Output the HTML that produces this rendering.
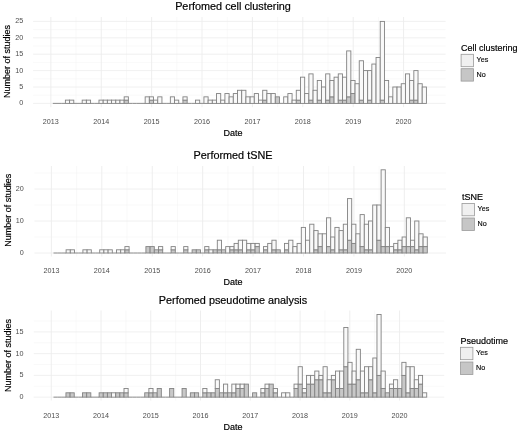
<!DOCTYPE html>
<html><head><meta charset="utf-8"><title>Figure</title>
<style>
html,body{margin:0;padding:0;background:#fff;}
body{width:520px;height:431px;overflow:hidden;}
svg{display:block;font-family:"Liberation Sans",sans-serif;}
</style></head><body>
<svg width="520" height="431" viewBox="0 0 520 431">
<rect width="520" height="431" fill="#fff"/>
<g><line x1="33.10" x2="445.60" y1="95.20" y2="95.20" stroke="#f3f3f3" stroke-width="0.5"/>
<line x1="33.10" x2="445.60" y1="78.80" y2="78.80" stroke="#f3f3f3" stroke-width="0.5"/>
<line x1="33.10" x2="445.60" y1="62.40" y2="62.40" stroke="#f3f3f3" stroke-width="0.5"/>
<line x1="33.10" x2="445.60" y1="46.00" y2="46.00" stroke="#f3f3f3" stroke-width="0.5"/>
<line x1="33.10" x2="445.60" y1="29.60" y2="29.60" stroke="#f3f3f3" stroke-width="0.5"/>
<line x1="76.05" x2="76.05" y1="17.00" y2="107.20" stroke="#f3f3f3" stroke-width="0.5"/>
<line x1="126.44" x2="126.44" y1="17.00" y2="107.20" stroke="#f3f3f3" stroke-width="0.5"/>
<line x1="176.82" x2="176.82" y1="17.00" y2="107.20" stroke="#f3f3f3" stroke-width="0.5"/>
<line x1="227.22" x2="227.22" y1="17.00" y2="107.20" stroke="#f3f3f3" stroke-width="0.5"/>
<line x1="277.61" x2="277.61" y1="17.00" y2="107.20" stroke="#f3f3f3" stroke-width="0.5"/>
<line x1="328.00" x2="328.00" y1="17.00" y2="107.20" stroke="#f3f3f3" stroke-width="0.5"/>
<line x1="378.39" x2="378.39" y1="17.00" y2="107.20" stroke="#f3f3f3" stroke-width="0.5"/>
<line x1="33.10" x2="445.60" y1="103.40" y2="103.40" stroke="#ececec" stroke-width="0.8"/>
<line x1="33.10" x2="445.60" y1="87.00" y2="87.00" stroke="#ececec" stroke-width="0.8"/>
<line x1="33.10" x2="445.60" y1="70.60" y2="70.60" stroke="#ececec" stroke-width="0.8"/>
<line x1="33.10" x2="445.60" y1="54.20" y2="54.20" stroke="#ececec" stroke-width="0.8"/>
<line x1="33.10" x2="445.60" y1="37.80" y2="37.80" stroke="#ececec" stroke-width="0.8"/>
<line x1="33.10" x2="445.60" y1="21.40" y2="21.40" stroke="#ececec" stroke-width="0.8"/>
<line x1="50.85" x2="50.85" y1="17.00" y2="107.20" stroke="#ececec" stroke-width="0.9"/>
<line x1="101.24" x2="101.24" y1="17.00" y2="107.20" stroke="#ececec" stroke-width="0.9"/>
<line x1="151.63" x2="151.63" y1="17.00" y2="107.20" stroke="#ececec" stroke-width="0.9"/>
<line x1="202.02" x2="202.02" y1="17.00" y2="107.20" stroke="#ececec" stroke-width="0.9"/>
<line x1="252.41" x2="252.41" y1="17.00" y2="107.20" stroke="#ececec" stroke-width="0.9"/>
<line x1="302.80" x2="302.80" y1="17.00" y2="107.20" stroke="#ececec" stroke-width="0.9"/>
<line x1="353.19" x2="353.19" y1="17.00" y2="107.20" stroke="#ececec" stroke-width="0.9"/>
<line x1="403.58" x2="403.58" y1="17.00" y2="107.20" stroke="#ececec" stroke-width="0.9"/>
<line x1="52.80" x2="57.00" y1="103.40" y2="103.40" stroke="#828282" stroke-width="0.9"/>
<line x1="57.00" x2="61.20" y1="103.40" y2="103.40" stroke="#828282" stroke-width="0.9"/>
<line x1="61.20" x2="65.39" y1="103.40" y2="103.40" stroke="#828282" stroke-width="0.9"/>
<rect x="65.39" y="100.12" width="4.198" height="3.28" fill="#f9f9f9" stroke="#828282" stroke-width="0.9"/>
<rect x="69.59" y="100.12" width="4.198" height="3.28" fill="#f9f9f9" stroke="#828282" stroke-width="0.9"/>
<line x1="73.79" x2="77.99" y1="103.40" y2="103.40" stroke="#828282" stroke-width="0.9"/>
<line x1="77.99" x2="82.19" y1="103.40" y2="103.40" stroke="#828282" stroke-width="0.9"/>
<rect x="82.19" y="100.12" width="4.198" height="3.28" fill="#f9f9f9" stroke="#828282" stroke-width="0.9"/>
<rect x="86.38" y="100.12" width="4.198" height="3.28" fill="#f9f9f9" stroke="#828282" stroke-width="0.9"/>
<line x1="90.58" x2="94.78" y1="103.40" y2="103.40" stroke="#828282" stroke-width="0.9"/>
<line x1="94.78" x2="98.98" y1="103.40" y2="103.40" stroke="#828282" stroke-width="0.9"/>
<rect x="98.98" y="100.12" width="4.198" height="3.28" fill="#f9f9f9" stroke="#828282" stroke-width="0.9"/>
<rect x="103.18" y="100.12" width="4.198" height="3.28" fill="#f9f9f9" stroke="#828282" stroke-width="0.9"/>
<rect x="107.37" y="100.12" width="4.198" height="3.28" fill="#f9f9f9" stroke="#828282" stroke-width="0.9"/>
<rect x="111.57" y="100.12" width="4.198" height="3.28" fill="#f9f9f9" stroke="#828282" stroke-width="0.9"/>
<rect x="115.77" y="100.12" width="4.198" height="3.28" fill="#f9f9f9" stroke="#828282" stroke-width="0.9"/>
<rect x="119.97" y="100.12" width="4.198" height="3.28" fill="#f9f9f9" stroke="#828282" stroke-width="0.9"/>
<rect x="124.17" y="100.12" width="4.198" height="3.28" fill="#c8c8c8" stroke="#828282" stroke-width="0.9"/>
<rect x="124.17" y="96.84" width="4.198" height="3.28" fill="#f9f9f9" stroke="#828282" stroke-width="0.9"/>
<line x1="128.36" x2="132.56" y1="103.40" y2="103.40" stroke="#828282" stroke-width="0.9"/>
<line x1="132.56" x2="136.76" y1="103.40" y2="103.40" stroke="#828282" stroke-width="0.9"/>
<line x1="136.76" x2="140.96" y1="103.40" y2="103.40" stroke="#828282" stroke-width="0.9"/>
<line x1="140.96" x2="145.16" y1="103.40" y2="103.40" stroke="#828282" stroke-width="0.9"/>
<rect x="145.16" y="96.84" width="4.198" height="6.56" fill="#f9f9f9" stroke="#828282" stroke-width="0.9"/>
<rect x="149.35" y="100.12" width="4.198" height="3.28" fill="#c8c8c8" stroke="#828282" stroke-width="0.9"/>
<rect x="149.35" y="96.84" width="4.198" height="3.28" fill="#f9f9f9" stroke="#828282" stroke-width="0.9"/>
<rect x="153.55" y="100.12" width="4.198" height="3.28" fill="#f9f9f9" stroke="#828282" stroke-width="0.9"/>
<rect x="157.75" y="96.84" width="4.198" height="6.56" fill="#f9f9f9" stroke="#828282" stroke-width="0.9"/>
<line x1="161.95" x2="166.15" y1="103.40" y2="103.40" stroke="#828282" stroke-width="0.9"/>
<line x1="166.15" x2="170.34" y1="103.40" y2="103.40" stroke="#828282" stroke-width="0.9"/>
<rect x="170.34" y="96.84" width="4.198" height="6.56" fill="#f9f9f9" stroke="#828282" stroke-width="0.9"/>
<rect x="174.54" y="100.12" width="4.198" height="3.28" fill="#f9f9f9" stroke="#828282" stroke-width="0.9"/>
<line x1="178.74" x2="182.94" y1="103.40" y2="103.40" stroke="#828282" stroke-width="0.9"/>
<rect x="182.94" y="100.12" width="4.198" height="3.28" fill="#c8c8c8" stroke="#828282" stroke-width="0.9"/>
<rect x="182.94" y="96.84" width="4.198" height="3.28" fill="#f9f9f9" stroke="#828282" stroke-width="0.9"/>
<line x1="187.14" x2="191.33" y1="103.40" y2="103.40" stroke="#828282" stroke-width="0.9"/>
<line x1="191.33" x2="195.53" y1="103.40" y2="103.40" stroke="#828282" stroke-width="0.9"/>
<rect x="195.53" y="100.12" width="4.198" height="3.28" fill="#f9f9f9" stroke="#828282" stroke-width="0.9"/>
<line x1="199.73" x2="203.93" y1="103.40" y2="103.40" stroke="#828282" stroke-width="0.9"/>
<rect x="203.93" y="96.84" width="4.198" height="6.56" fill="#f9f9f9" stroke="#828282" stroke-width="0.9"/>
<rect x="208.13" y="100.12" width="4.198" height="3.28" fill="#f9f9f9" stroke="#828282" stroke-width="0.9"/>
<rect x="212.32" y="100.12" width="4.198" height="3.28" fill="#f9f9f9" stroke="#828282" stroke-width="0.9"/>
<rect x="216.52" y="93.56" width="4.198" height="9.84" fill="#f9f9f9" stroke="#828282" stroke-width="0.9"/>
<rect x="220.72" y="100.12" width="4.198" height="3.28" fill="#f9f9f9" stroke="#828282" stroke-width="0.9"/>
<rect x="224.92" y="93.56" width="4.198" height="9.84" fill="#f9f9f9" stroke="#828282" stroke-width="0.9"/>
<rect x="229.12" y="96.84" width="4.198" height="6.56" fill="#f9f9f9" stroke="#828282" stroke-width="0.9"/>
<rect x="233.31" y="93.56" width="4.198" height="9.84" fill="#f9f9f9" stroke="#828282" stroke-width="0.9"/>
<rect x="237.51" y="90.28" width="4.198" height="13.12" fill="#f9f9f9" stroke="#828282" stroke-width="0.9"/>
<rect x="241.71" y="90.28" width="4.198" height="13.12" fill="#f9f9f9" stroke="#828282" stroke-width="0.9"/>
<rect x="245.91" y="96.84" width="4.198" height="6.56" fill="#f9f9f9" stroke="#828282" stroke-width="0.9"/>
<rect x="250.11" y="96.84" width="4.198" height="6.56" fill="#f9f9f9" stroke="#828282" stroke-width="0.9"/>
<rect x="254.30" y="93.56" width="4.198" height="9.84" fill="#f9f9f9" stroke="#828282" stroke-width="0.9"/>
<rect x="258.50" y="100.12" width="4.198" height="3.28" fill="#f9f9f9" stroke="#828282" stroke-width="0.9"/>
<rect x="262.70" y="100.12" width="4.198" height="3.28" fill="#c8c8c8" stroke="#828282" stroke-width="0.9"/>
<rect x="262.70" y="90.28" width="4.198" height="9.84" fill="#f9f9f9" stroke="#828282" stroke-width="0.9"/>
<rect x="266.90" y="93.56" width="4.198" height="9.84" fill="#f9f9f9" stroke="#828282" stroke-width="0.9"/>
<rect x="271.10" y="93.56" width="4.198" height="9.84" fill="#f9f9f9" stroke="#828282" stroke-width="0.9"/>
<rect x="275.29" y="96.84" width="4.198" height="6.56" fill="#c8c8c8" stroke="#828282" stroke-width="0.9"/>
<line x1="279.49" x2="283.69" y1="103.40" y2="103.40" stroke="#828282" stroke-width="0.9"/>
<rect x="283.69" y="96.84" width="4.198" height="6.56" fill="#f9f9f9" stroke="#828282" stroke-width="0.9"/>
<rect x="287.89" y="93.56" width="4.198" height="9.84" fill="#f9f9f9" stroke="#828282" stroke-width="0.9"/>
<rect x="292.09" y="100.12" width="4.198" height="3.28" fill="#f9f9f9" stroke="#828282" stroke-width="0.9"/>
<rect x="296.28" y="100.12" width="4.198" height="3.28" fill="#c8c8c8" stroke="#828282" stroke-width="0.9"/>
<rect x="296.28" y="90.28" width="4.198" height="9.84" fill="#f9f9f9" stroke="#828282" stroke-width="0.9"/>
<rect x="300.48" y="77.16" width="4.198" height="26.24" fill="#f9f9f9" stroke="#828282" stroke-width="0.9"/>
<rect x="304.68" y="93.56" width="4.198" height="9.84" fill="#f9f9f9" stroke="#828282" stroke-width="0.9"/>
<rect x="308.88" y="100.12" width="4.198" height="3.28" fill="#c8c8c8" stroke="#828282" stroke-width="0.9"/>
<rect x="308.88" y="73.88" width="4.198" height="26.24" fill="#f9f9f9" stroke="#828282" stroke-width="0.9"/>
<rect x="313.08" y="90.28" width="4.198" height="13.12" fill="#f9f9f9" stroke="#828282" stroke-width="0.9"/>
<rect x="317.27" y="100.12" width="4.198" height="3.28" fill="#c8c8c8" stroke="#828282" stroke-width="0.9"/>
<rect x="317.27" y="80.44" width="4.198" height="19.68" fill="#f9f9f9" stroke="#828282" stroke-width="0.9"/>
<rect x="321.47" y="87.00" width="4.198" height="16.40" fill="#f9f9f9" stroke="#828282" stroke-width="0.9"/>
<rect x="325.67" y="100.12" width="4.198" height="3.28" fill="#c8c8c8" stroke="#828282" stroke-width="0.9"/>
<rect x="325.67" y="73.88" width="4.198" height="26.24" fill="#f9f9f9" stroke="#828282" stroke-width="0.9"/>
<rect x="329.87" y="96.84" width="4.198" height="6.56" fill="#c8c8c8" stroke="#828282" stroke-width="0.9"/>
<rect x="329.87" y="80.44" width="4.198" height="16.40" fill="#f9f9f9" stroke="#828282" stroke-width="0.9"/>
<rect x="334.07" y="77.16" width="4.198" height="26.24" fill="#f9f9f9" stroke="#828282" stroke-width="0.9"/>
<rect x="338.26" y="100.12" width="4.198" height="3.28" fill="#c8c8c8" stroke="#828282" stroke-width="0.9"/>
<rect x="338.26" y="73.88" width="4.198" height="26.24" fill="#f9f9f9" stroke="#828282" stroke-width="0.9"/>
<rect x="342.46" y="100.12" width="4.198" height="3.28" fill="#c8c8c8" stroke="#828282" stroke-width="0.9"/>
<rect x="342.46" y="77.16" width="4.198" height="22.96" fill="#f9f9f9" stroke="#828282" stroke-width="0.9"/>
<rect x="346.66" y="96.84" width="4.198" height="6.56" fill="#c8c8c8" stroke="#828282" stroke-width="0.9"/>
<rect x="346.66" y="50.92" width="4.198" height="45.92" fill="#f9f9f9" stroke="#828282" stroke-width="0.9"/>
<rect x="350.86" y="93.56" width="4.198" height="9.84" fill="#c8c8c8" stroke="#828282" stroke-width="0.9"/>
<rect x="350.86" y="80.44" width="4.198" height="13.12" fill="#f9f9f9" stroke="#828282" stroke-width="0.9"/>
<rect x="355.06" y="83.72" width="4.198" height="19.68" fill="#f9f9f9" stroke="#828282" stroke-width="0.9"/>
<rect x="359.25" y="100.12" width="4.198" height="3.28" fill="#c8c8c8" stroke="#828282" stroke-width="0.9"/>
<rect x="359.25" y="60.76" width="4.198" height="39.36" fill="#f9f9f9" stroke="#828282" stroke-width="0.9"/>
<rect x="363.45" y="70.60" width="4.198" height="32.80" fill="#f9f9f9" stroke="#828282" stroke-width="0.9"/>
<rect x="367.65" y="100.12" width="4.198" height="3.28" fill="#c8c8c8" stroke="#828282" stroke-width="0.9"/>
<rect x="367.65" y="70.60" width="4.198" height="29.52" fill="#f9f9f9" stroke="#828282" stroke-width="0.9"/>
<rect x="371.85" y="64.04" width="4.198" height="39.36" fill="#f9f9f9" stroke="#828282" stroke-width="0.9"/>
<rect x="376.05" y="57.48" width="4.198" height="45.92" fill="#f9f9f9" stroke="#828282" stroke-width="0.9"/>
<rect x="380.24" y="100.12" width="4.198" height="3.28" fill="#c8c8c8" stroke="#828282" stroke-width="0.9"/>
<rect x="380.24" y="21.40" width="4.198" height="78.72" fill="#f9f9f9" stroke="#828282" stroke-width="0.9"/>
<rect x="384.44" y="80.44" width="4.198" height="22.96" fill="#f9f9f9" stroke="#828282" stroke-width="0.9"/>
<rect x="388.64" y="96.84" width="4.198" height="6.56" fill="#f9f9f9" stroke="#828282" stroke-width="0.9"/>
<rect x="392.84" y="87.00" width="4.198" height="16.40" fill="#f9f9f9" stroke="#828282" stroke-width="0.9"/>
<rect x="397.04" y="87.00" width="4.198" height="16.40" fill="#f9f9f9" stroke="#828282" stroke-width="0.9"/>
<rect x="401.23" y="83.72" width="4.198" height="19.68" fill="#f9f9f9" stroke="#828282" stroke-width="0.9"/>
<rect x="405.43" y="73.88" width="4.198" height="29.52" fill="#f9f9f9" stroke="#828282" stroke-width="0.9"/>
<rect x="409.63" y="100.12" width="4.198" height="3.28" fill="#c8c8c8" stroke="#828282" stroke-width="0.9"/>
<rect x="409.63" y="80.44" width="4.198" height="19.68" fill="#f9f9f9" stroke="#828282" stroke-width="0.9"/>
<rect x="413.83" y="100.12" width="4.198" height="3.28" fill="#c8c8c8" stroke="#828282" stroke-width="0.9"/>
<rect x="413.83" y="70.60" width="4.198" height="29.52" fill="#f9f9f9" stroke="#828282" stroke-width="0.9"/>
<rect x="418.03" y="83.72" width="4.198" height="19.68" fill="#f9f9f9" stroke="#828282" stroke-width="0.9"/>
<rect x="422.22" y="87.00" width="4.198" height="16.40" fill="#f9f9f9" stroke="#828282" stroke-width="0.9"/>
<text x="23.20" y="105.40" font-size="7.2" fill="#4d4d4d" text-anchor="end">0</text>
<text x="23.20" y="89.00" font-size="7.2" fill="#4d4d4d" text-anchor="end">5</text>
<text x="23.20" y="72.60" font-size="7.2" fill="#4d4d4d" text-anchor="end">10</text>
<text x="23.20" y="56.20" font-size="7.2" fill="#4d4d4d" text-anchor="end">15</text>
<text x="23.20" y="39.80" font-size="7.2" fill="#4d4d4d" text-anchor="end">20</text>
<text x="23.20" y="23.40" font-size="7.2" fill="#4d4d4d" text-anchor="end">25</text>
<text x="50.85" y="123.80" font-size="7.2" fill="#4d4d4d" text-anchor="middle">2013</text>
<text x="101.24" y="123.80" font-size="7.2" fill="#4d4d4d" text-anchor="middle">2014</text>
<text x="151.63" y="123.80" font-size="7.2" fill="#4d4d4d" text-anchor="middle">2015</text>
<text x="202.02" y="123.80" font-size="7.2" fill="#4d4d4d" text-anchor="middle">2016</text>
<text x="252.41" y="123.80" font-size="7.2" fill="#4d4d4d" text-anchor="middle">2017</text>
<text x="302.80" y="123.80" font-size="7.2" fill="#4d4d4d" text-anchor="middle">2018</text>
<text x="353.19" y="123.80" font-size="7.2" fill="#4d4d4d" text-anchor="middle">2019</text>
<text x="403.58" y="123.80" font-size="7.2" fill="#4d4d4d" text-anchor="middle">2020</text>
<text x="233.00" y="10.00" font-size="10.85" fill="#000" stroke="#000" stroke-width="0.18" text-anchor="middle">Perfomed cell clustering</text>
<text x="233.00" y="135.50" font-size="9" fill="#000" stroke="#000" stroke-width="0.18" text-anchor="middle">Date</text>
<text transform="translate(10.20 61.60) rotate(-90)" font-size="9" fill="#000" stroke="#000" stroke-width="0.18" text-anchor="middle">Number of studies</text>
<text x="461.10" y="50.80" font-size="9" fill="#000" stroke="#000" stroke-width="0.18">Cell clustering</text>
<rect x="461.10" y="54.30" width="12.40" height="12.40" fill="#f0f0f0" stroke="#999" stroke-width="0.8"/>
<rect x="461.10" y="68.70" width="12.40" height="12.40" fill="#c6c6c6" stroke="#999" stroke-width="0.8"/>
<text x="476.60" y="62.20" font-size="7.2" fill="#000" stroke="#000" stroke-width="0.12">Yes</text>
<text x="476.60" y="76.50" font-size="7.2" fill="#000" stroke="#000" stroke-width="0.12">No</text></g>
<g><line x1="34.40" x2="446.00" y1="237.00" y2="237.00" stroke="#f3f3f3" stroke-width="0.5"/>
<line x1="34.40" x2="446.00" y1="205.00" y2="205.00" stroke="#f3f3f3" stroke-width="0.5"/>
<line x1="34.40" x2="446.00" y1="173.00" y2="173.00" stroke="#f3f3f3" stroke-width="0.5"/>
<line x1="76.61" x2="76.61" y1="166.00" y2="256.50" stroke="#f3f3f3" stroke-width="0.5"/>
<line x1="127.03" x2="127.03" y1="166.00" y2="256.50" stroke="#f3f3f3" stroke-width="0.5"/>
<line x1="177.45" x2="177.45" y1="166.00" y2="256.50" stroke="#f3f3f3" stroke-width="0.5"/>
<line x1="227.87" x2="227.87" y1="166.00" y2="256.50" stroke="#f3f3f3" stroke-width="0.5"/>
<line x1="278.29" x2="278.29" y1="166.00" y2="256.50" stroke="#f3f3f3" stroke-width="0.5"/>
<line x1="328.71" x2="328.71" y1="166.00" y2="256.50" stroke="#f3f3f3" stroke-width="0.5"/>
<line x1="379.13" x2="379.13" y1="166.00" y2="256.50" stroke="#f3f3f3" stroke-width="0.5"/>
<line x1="34.40" x2="446.00" y1="253.00" y2="253.00" stroke="#ececec" stroke-width="0.8"/>
<line x1="34.40" x2="446.00" y1="221.00" y2="221.00" stroke="#ececec" stroke-width="0.8"/>
<line x1="34.40" x2="446.00" y1="189.00" y2="189.00" stroke="#ececec" stroke-width="0.8"/>
<line x1="51.40" x2="51.40" y1="166.00" y2="256.50" stroke="#ececec" stroke-width="0.9"/>
<line x1="101.82" x2="101.82" y1="166.00" y2="256.50" stroke="#ececec" stroke-width="0.9"/>
<line x1="152.24" x2="152.24" y1="166.00" y2="256.50" stroke="#ececec" stroke-width="0.9"/>
<line x1="202.66" x2="202.66" y1="166.00" y2="256.50" stroke="#ececec" stroke-width="0.9"/>
<line x1="253.08" x2="253.08" y1="166.00" y2="256.50" stroke="#ececec" stroke-width="0.9"/>
<line x1="303.50" x2="303.50" y1="166.00" y2="256.50" stroke="#ececec" stroke-width="0.9"/>
<line x1="353.92" x2="353.92" y1="166.00" y2="256.50" stroke="#ececec" stroke-width="0.9"/>
<line x1="404.34" x2="404.34" y1="166.00" y2="256.50" stroke="#ececec" stroke-width="0.9"/>
<line x1="53.50" x2="57.70" y1="253.00" y2="253.00" stroke="#828282" stroke-width="0.9"/>
<line x1="57.70" x2="61.90" y1="253.00" y2="253.00" stroke="#828282" stroke-width="0.9"/>
<line x1="61.90" x2="66.10" y1="253.00" y2="253.00" stroke="#828282" stroke-width="0.9"/>
<rect x="66.10" y="249.80" width="4.200" height="3.20" fill="#f9f9f9" stroke="#828282" stroke-width="0.9"/>
<rect x="70.30" y="249.80" width="4.200" height="3.20" fill="#f9f9f9" stroke="#828282" stroke-width="0.9"/>
<line x1="74.50" x2="78.70" y1="253.00" y2="253.00" stroke="#828282" stroke-width="0.9"/>
<line x1="78.70" x2="82.90" y1="253.00" y2="253.00" stroke="#828282" stroke-width="0.9"/>
<rect x="82.90" y="249.80" width="4.200" height="3.20" fill="#f9f9f9" stroke="#828282" stroke-width="0.9"/>
<rect x="87.10" y="249.80" width="4.200" height="3.20" fill="#f9f9f9" stroke="#828282" stroke-width="0.9"/>
<line x1="91.30" x2="95.50" y1="253.00" y2="253.00" stroke="#828282" stroke-width="0.9"/>
<line x1="95.50" x2="99.70" y1="253.00" y2="253.00" stroke="#828282" stroke-width="0.9"/>
<rect x="99.70" y="249.80" width="4.200" height="3.20" fill="#f9f9f9" stroke="#828282" stroke-width="0.9"/>
<rect x="103.90" y="249.80" width="4.200" height="3.20" fill="#f9f9f9" stroke="#828282" stroke-width="0.9"/>
<rect x="108.10" y="249.80" width="4.200" height="3.20" fill="#f9f9f9" stroke="#828282" stroke-width="0.9"/>
<line x1="112.30" x2="116.50" y1="253.00" y2="253.00" stroke="#828282" stroke-width="0.9"/>
<rect x="116.50" y="249.80" width="4.200" height="3.20" fill="#f9f9f9" stroke="#828282" stroke-width="0.9"/>
<rect x="120.70" y="249.80" width="4.200" height="3.20" fill="#f9f9f9" stroke="#828282" stroke-width="0.9"/>
<rect x="124.90" y="249.80" width="4.200" height="3.20" fill="#c8c8c8" stroke="#828282" stroke-width="0.9"/>
<rect x="124.90" y="246.60" width="4.200" height="3.20" fill="#f9f9f9" stroke="#828282" stroke-width="0.9"/>
<line x1="129.10" x2="133.30" y1="253.00" y2="253.00" stroke="#828282" stroke-width="0.9"/>
<line x1="133.30" x2="137.50" y1="253.00" y2="253.00" stroke="#828282" stroke-width="0.9"/>
<line x1="137.50" x2="141.70" y1="253.00" y2="253.00" stroke="#828282" stroke-width="0.9"/>
<line x1="141.70" x2="145.90" y1="253.00" y2="253.00" stroke="#828282" stroke-width="0.9"/>
<rect x="145.90" y="246.60" width="4.200" height="6.40" fill="#c8c8c8" stroke="#828282" stroke-width="0.9"/>
<rect x="150.10" y="246.60" width="4.200" height="6.40" fill="#c8c8c8" stroke="#828282" stroke-width="0.9"/>
<rect x="154.30" y="249.80" width="4.200" height="3.20" fill="#c8c8c8" stroke="#828282" stroke-width="0.9"/>
<rect x="158.50" y="249.80" width="4.200" height="3.20" fill="#c8c8c8" stroke="#828282" stroke-width="0.9"/>
<rect x="158.50" y="246.60" width="4.200" height="3.20" fill="#f9f9f9" stroke="#828282" stroke-width="0.9"/>
<line x1="162.70" x2="166.90" y1="253.00" y2="253.00" stroke="#828282" stroke-width="0.9"/>
<line x1="166.90" x2="171.10" y1="253.00" y2="253.00" stroke="#828282" stroke-width="0.9"/>
<rect x="171.10" y="249.80" width="4.200" height="3.20" fill="#c8c8c8" stroke="#828282" stroke-width="0.9"/>
<rect x="171.10" y="246.60" width="4.200" height="3.20" fill="#f9f9f9" stroke="#828282" stroke-width="0.9"/>
<line x1="175.30" x2="179.50" y1="253.00" y2="253.00" stroke="#828282" stroke-width="0.9"/>
<line x1="179.50" x2="183.70" y1="253.00" y2="253.00" stroke="#828282" stroke-width="0.9"/>
<rect x="183.70" y="249.80" width="4.200" height="3.20" fill="#c8c8c8" stroke="#828282" stroke-width="0.9"/>
<rect x="183.70" y="246.60" width="4.200" height="3.20" fill="#f9f9f9" stroke="#828282" stroke-width="0.9"/>
<line x1="187.90" x2="192.10" y1="253.00" y2="253.00" stroke="#828282" stroke-width="0.9"/>
<rect x="192.10" y="249.80" width="4.200" height="3.20" fill="#c8c8c8" stroke="#828282" stroke-width="0.9"/>
<rect x="196.30" y="249.80" width="4.200" height="3.20" fill="#c8c8c8" stroke="#828282" stroke-width="0.9"/>
<line x1="200.50" x2="204.70" y1="253.00" y2="253.00" stroke="#828282" stroke-width="0.9"/>
<rect x="204.70" y="249.80" width="4.200" height="3.20" fill="#c8c8c8" stroke="#828282" stroke-width="0.9"/>
<rect x="204.70" y="246.60" width="4.200" height="3.20" fill="#f9f9f9" stroke="#828282" stroke-width="0.9"/>
<rect x="208.90" y="249.80" width="4.200" height="3.20" fill="#f9f9f9" stroke="#828282" stroke-width="0.9"/>
<rect x="213.10" y="249.80" width="4.200" height="3.20" fill="#c8c8c8" stroke="#828282" stroke-width="0.9"/>
<rect x="217.30" y="249.80" width="4.200" height="3.20" fill="#c8c8c8" stroke="#828282" stroke-width="0.9"/>
<rect x="217.30" y="240.20" width="4.200" height="9.60" fill="#f9f9f9" stroke="#828282" stroke-width="0.9"/>
<rect x="221.50" y="249.80" width="4.200" height="3.20" fill="#c8c8c8" stroke="#828282" stroke-width="0.9"/>
<rect x="225.70" y="246.60" width="4.200" height="6.40" fill="#f9f9f9" stroke="#828282" stroke-width="0.9"/>
<rect x="229.90" y="249.80" width="4.200" height="3.20" fill="#c8c8c8" stroke="#828282" stroke-width="0.9"/>
<rect x="229.90" y="246.60" width="4.200" height="3.20" fill="#f9f9f9" stroke="#828282" stroke-width="0.9"/>
<rect x="234.10" y="249.80" width="4.200" height="3.20" fill="#c8c8c8" stroke="#828282" stroke-width="0.9"/>
<rect x="234.10" y="243.40" width="4.200" height="6.40" fill="#f9f9f9" stroke="#828282" stroke-width="0.9"/>
<rect x="238.30" y="249.80" width="4.200" height="3.20" fill="#c8c8c8" stroke="#828282" stroke-width="0.9"/>
<rect x="238.30" y="240.20" width="4.200" height="9.60" fill="#f9f9f9" stroke="#828282" stroke-width="0.9"/>
<rect x="242.50" y="240.20" width="4.200" height="12.80" fill="#f9f9f9" stroke="#828282" stroke-width="0.9"/>
<rect x="246.70" y="249.80" width="4.200" height="3.20" fill="#c8c8c8" stroke="#828282" stroke-width="0.9"/>
<rect x="246.70" y="243.40" width="4.200" height="6.40" fill="#f9f9f9" stroke="#828282" stroke-width="0.9"/>
<rect x="250.90" y="249.80" width="4.200" height="3.20" fill="#c8c8c8" stroke="#828282" stroke-width="0.9"/>
<rect x="250.90" y="243.40" width="4.200" height="6.40" fill="#f9f9f9" stroke="#828282" stroke-width="0.9"/>
<rect x="255.10" y="246.60" width="4.200" height="6.40" fill="#c8c8c8" stroke="#828282" stroke-width="0.9"/>
<rect x="255.10" y="243.40" width="4.200" height="3.20" fill="#f9f9f9" stroke="#828282" stroke-width="0.9"/>
<line x1="259.30" x2="263.50" y1="253.00" y2="253.00" stroke="#828282" stroke-width="0.9"/>
<rect x="263.50" y="249.80" width="4.200" height="3.20" fill="#c8c8c8" stroke="#828282" stroke-width="0.9"/>
<rect x="263.50" y="246.60" width="4.200" height="3.20" fill="#f9f9f9" stroke="#828282" stroke-width="0.9"/>
<rect x="267.70" y="243.40" width="4.200" height="9.60" fill="#f9f9f9" stroke="#828282" stroke-width="0.9"/>
<rect x="271.90" y="249.80" width="4.200" height="3.20" fill="#c8c8c8" stroke="#828282" stroke-width="0.9"/>
<rect x="271.90" y="240.20" width="4.200" height="9.60" fill="#f9f9f9" stroke="#828282" stroke-width="0.9"/>
<rect x="276.10" y="249.80" width="4.200" height="3.20" fill="#c8c8c8" stroke="#828282" stroke-width="0.9"/>
<line x1="280.30" x2="284.50" y1="253.00" y2="253.00" stroke="#828282" stroke-width="0.9"/>
<rect x="284.50" y="249.80" width="4.200" height="3.20" fill="#c8c8c8" stroke="#828282" stroke-width="0.9"/>
<rect x="284.50" y="243.40" width="4.200" height="6.40" fill="#f9f9f9" stroke="#828282" stroke-width="0.9"/>
<rect x="288.70" y="240.20" width="4.200" height="12.80" fill="#f9f9f9" stroke="#828282" stroke-width="0.9"/>
<rect x="292.90" y="246.60" width="4.200" height="6.40" fill="#f9f9f9" stroke="#828282" stroke-width="0.9"/>
<rect x="297.10" y="243.40" width="4.200" height="9.60" fill="#f9f9f9" stroke="#828282" stroke-width="0.9"/>
<rect x="301.30" y="227.40" width="4.200" height="25.60" fill="#f9f9f9" stroke="#828282" stroke-width="0.9"/>
<rect x="305.50" y="240.20" width="4.200" height="12.80" fill="#f9f9f9" stroke="#828282" stroke-width="0.9"/>
<rect x="309.70" y="224.20" width="4.200" height="28.80" fill="#f9f9f9" stroke="#828282" stroke-width="0.9"/>
<rect x="313.90" y="249.80" width="4.200" height="3.20" fill="#c8c8c8" stroke="#828282" stroke-width="0.9"/>
<rect x="313.90" y="230.60" width="4.200" height="19.20" fill="#f9f9f9" stroke="#828282" stroke-width="0.9"/>
<rect x="318.10" y="246.60" width="4.200" height="6.40" fill="#c8c8c8" stroke="#828282" stroke-width="0.9"/>
<rect x="318.10" y="233.80" width="4.200" height="12.80" fill="#f9f9f9" stroke="#828282" stroke-width="0.9"/>
<rect x="322.30" y="233.80" width="4.200" height="19.20" fill="#f9f9f9" stroke="#828282" stroke-width="0.9"/>
<rect x="326.50" y="246.60" width="4.200" height="6.40" fill="#c8c8c8" stroke="#828282" stroke-width="0.9"/>
<rect x="326.50" y="217.80" width="4.200" height="28.80" fill="#f9f9f9" stroke="#828282" stroke-width="0.9"/>
<rect x="330.70" y="249.80" width="4.200" height="3.20" fill="#c8c8c8" stroke="#828282" stroke-width="0.9"/>
<rect x="330.70" y="237.00" width="4.200" height="12.80" fill="#f9f9f9" stroke="#828282" stroke-width="0.9"/>
<rect x="334.90" y="227.40" width="4.200" height="25.60" fill="#f9f9f9" stroke="#828282" stroke-width="0.9"/>
<rect x="339.10" y="249.80" width="4.200" height="3.20" fill="#c8c8c8" stroke="#828282" stroke-width="0.9"/>
<rect x="339.10" y="230.60" width="4.200" height="19.20" fill="#f9f9f9" stroke="#828282" stroke-width="0.9"/>
<rect x="343.30" y="249.80" width="4.200" height="3.20" fill="#c8c8c8" stroke="#828282" stroke-width="0.9"/>
<rect x="343.30" y="224.20" width="4.200" height="25.60" fill="#f9f9f9" stroke="#828282" stroke-width="0.9"/>
<rect x="347.50" y="240.20" width="4.200" height="12.80" fill="#c8c8c8" stroke="#828282" stroke-width="0.9"/>
<rect x="347.50" y="198.60" width="4.200" height="41.60" fill="#f9f9f9" stroke="#828282" stroke-width="0.9"/>
<rect x="351.70" y="243.40" width="4.200" height="9.60" fill="#c8c8c8" stroke="#828282" stroke-width="0.9"/>
<rect x="351.70" y="224.20" width="4.200" height="19.20" fill="#f9f9f9" stroke="#828282" stroke-width="0.9"/>
<rect x="355.90" y="233.80" width="4.200" height="19.20" fill="#f9f9f9" stroke="#828282" stroke-width="0.9"/>
<rect x="360.10" y="246.60" width="4.200" height="6.40" fill="#c8c8c8" stroke="#828282" stroke-width="0.9"/>
<rect x="360.10" y="214.60" width="4.200" height="32.00" fill="#f9f9f9" stroke="#828282" stroke-width="0.9"/>
<rect x="364.30" y="249.80" width="4.200" height="3.20" fill="#c8c8c8" stroke="#828282" stroke-width="0.9"/>
<rect x="364.30" y="224.20" width="4.200" height="25.60" fill="#f9f9f9" stroke="#828282" stroke-width="0.9"/>
<rect x="368.50" y="249.80" width="4.200" height="3.20" fill="#c8c8c8" stroke="#828282" stroke-width="0.9"/>
<rect x="368.50" y="221.00" width="4.200" height="28.80" fill="#f9f9f9" stroke="#828282" stroke-width="0.9"/>
<rect x="372.70" y="205.00" width="4.200" height="48.00" fill="#f9f9f9" stroke="#828282" stroke-width="0.9"/>
<rect x="376.90" y="240.20" width="4.200" height="12.80" fill="#c8c8c8" stroke="#828282" stroke-width="0.9"/>
<rect x="376.90" y="205.00" width="4.200" height="35.20" fill="#f9f9f9" stroke="#828282" stroke-width="0.9"/>
<rect x="381.10" y="246.60" width="4.200" height="6.40" fill="#c8c8c8" stroke="#828282" stroke-width="0.9"/>
<rect x="381.10" y="169.80" width="4.200" height="76.80" fill="#f9f9f9" stroke="#828282" stroke-width="0.9"/>
<rect x="385.30" y="246.60" width="4.200" height="6.40" fill="#c8c8c8" stroke="#828282" stroke-width="0.9"/>
<rect x="385.30" y="227.40" width="4.200" height="19.20" fill="#f9f9f9" stroke="#828282" stroke-width="0.9"/>
<rect x="389.50" y="246.60" width="4.200" height="6.40" fill="#f9f9f9" stroke="#828282" stroke-width="0.9"/>
<rect x="393.70" y="249.80" width="4.200" height="3.20" fill="#c8c8c8" stroke="#828282" stroke-width="0.9"/>
<rect x="393.70" y="243.40" width="4.200" height="6.40" fill="#f9f9f9" stroke="#828282" stroke-width="0.9"/>
<rect x="397.90" y="249.80" width="4.200" height="3.20" fill="#c8c8c8" stroke="#828282" stroke-width="0.9"/>
<rect x="397.90" y="240.20" width="4.200" height="9.60" fill="#f9f9f9" stroke="#828282" stroke-width="0.9"/>
<rect x="402.10" y="246.60" width="4.200" height="6.40" fill="#c8c8c8" stroke="#828282" stroke-width="0.9"/>
<rect x="402.10" y="237.00" width="4.200" height="9.60" fill="#f9f9f9" stroke="#828282" stroke-width="0.9"/>
<rect x="406.30" y="246.60" width="4.200" height="6.40" fill="#c8c8c8" stroke="#828282" stroke-width="0.9"/>
<rect x="406.30" y="217.80" width="4.200" height="28.80" fill="#f9f9f9" stroke="#828282" stroke-width="0.9"/>
<rect x="410.50" y="246.60" width="4.200" height="6.40" fill="#c8c8c8" stroke="#828282" stroke-width="0.9"/>
<rect x="410.50" y="240.20" width="4.200" height="6.40" fill="#f9f9f9" stroke="#828282" stroke-width="0.9"/>
<rect x="414.70" y="249.80" width="4.200" height="3.20" fill="#c8c8c8" stroke="#828282" stroke-width="0.9"/>
<rect x="414.70" y="221.00" width="4.200" height="28.80" fill="#f9f9f9" stroke="#828282" stroke-width="0.9"/>
<rect x="418.90" y="246.60" width="4.200" height="6.40" fill="#c8c8c8" stroke="#828282" stroke-width="0.9"/>
<rect x="418.90" y="233.80" width="4.200" height="12.80" fill="#f9f9f9" stroke="#828282" stroke-width="0.9"/>
<rect x="423.10" y="246.60" width="4.200" height="6.40" fill="#c8c8c8" stroke="#828282" stroke-width="0.9"/>
<rect x="423.10" y="237.00" width="4.200" height="9.60" fill="#f9f9f9" stroke="#828282" stroke-width="0.9"/>
<text x="23.75" y="255.00" font-size="7.2" fill="#4d4d4d" text-anchor="end">0</text>
<text x="23.75" y="223.00" font-size="7.2" fill="#4d4d4d" text-anchor="end">10</text>
<text x="23.75" y="191.00" font-size="7.2" fill="#4d4d4d" text-anchor="end">20</text>
<text x="51.40" y="273.30" font-size="7.2" fill="#4d4d4d" text-anchor="middle">2013</text>
<text x="101.82" y="273.30" font-size="7.2" fill="#4d4d4d" text-anchor="middle">2014</text>
<text x="152.24" y="273.30" font-size="7.2" fill="#4d4d4d" text-anchor="middle">2015</text>
<text x="202.66" y="273.30" font-size="7.2" fill="#4d4d4d" text-anchor="middle">2016</text>
<text x="253.08" y="273.30" font-size="7.2" fill="#4d4d4d" text-anchor="middle">2017</text>
<text x="303.50" y="273.30" font-size="7.2" fill="#4d4d4d" text-anchor="middle">2018</text>
<text x="353.92" y="273.30" font-size="7.2" fill="#4d4d4d" text-anchor="middle">2019</text>
<text x="404.34" y="273.30" font-size="7.2" fill="#4d4d4d" text-anchor="middle">2020</text>
<text x="233.00" y="158.70" font-size="10.85" fill="#000" stroke="#000" stroke-width="0.18" text-anchor="middle">Performed tSNE</text>
<text x="233.00" y="285.30" font-size="9" fill="#000" stroke="#000" stroke-width="0.18" text-anchor="middle">Date</text>
<text transform="translate(11.20 210.30) rotate(-90)" font-size="9" fill="#000" stroke="#000" stroke-width="0.18" text-anchor="middle">Number of studies</text>
<text x="462.00" y="200.00" font-size="9" fill="#000" stroke="#000" stroke-width="0.18">tSNE</text>
<rect x="462.00" y="203.40" width="12.40" height="12.40" fill="#f0f0f0" stroke="#999" stroke-width="0.8"/>
<rect x="462.00" y="218.00" width="12.40" height="12.40" fill="#c6c6c6" stroke="#999" stroke-width="0.8"/>
<text x="477.50" y="211.30" font-size="7.2" fill="#000" stroke="#000" stroke-width="0.12">Yes</text>
<text x="477.50" y="225.80" font-size="7.2" fill="#000" stroke="#000" stroke-width="0.12">No</text></g>
<g><line x1="33.75" x2="444.20" y1="386.27" y2="386.27" stroke="#f3f3f3" stroke-width="0.5"/>
<line x1="33.75" x2="444.20" y1="364.52" y2="364.52" stroke="#f3f3f3" stroke-width="0.5"/>
<line x1="33.75" x2="444.20" y1="342.77" y2="342.77" stroke="#f3f3f3" stroke-width="0.5"/>
<line x1="33.75" x2="444.20" y1="321.02" y2="321.02" stroke="#f3f3f3" stroke-width="0.5"/>
<line x1="76.13" x2="76.13" y1="310.50" y2="400.50" stroke="#f3f3f3" stroke-width="0.5"/>
<line x1="125.89" x2="125.89" y1="310.50" y2="400.50" stroke="#f3f3f3" stroke-width="0.5"/>
<line x1="175.65" x2="175.65" y1="310.50" y2="400.50" stroke="#f3f3f3" stroke-width="0.5"/>
<line x1="225.41" x2="225.41" y1="310.50" y2="400.50" stroke="#f3f3f3" stroke-width="0.5"/>
<line x1="275.17" x2="275.17" y1="310.50" y2="400.50" stroke="#f3f3f3" stroke-width="0.5"/>
<line x1="324.93" x2="324.93" y1="310.50" y2="400.50" stroke="#f3f3f3" stroke-width="0.5"/>
<line x1="374.69" x2="374.69" y1="310.50" y2="400.50" stroke="#f3f3f3" stroke-width="0.5"/>
<line x1="33.75" x2="444.20" y1="397.15" y2="397.15" stroke="#ececec" stroke-width="0.8"/>
<line x1="33.75" x2="444.20" y1="375.40" y2="375.40" stroke="#ececec" stroke-width="0.8"/>
<line x1="33.75" x2="444.20" y1="353.65" y2="353.65" stroke="#ececec" stroke-width="0.8"/>
<line x1="33.75" x2="444.20" y1="331.90" y2="331.90" stroke="#ececec" stroke-width="0.8"/>
<line x1="51.25" x2="51.25" y1="310.50" y2="400.50" stroke="#ececec" stroke-width="0.9"/>
<line x1="101.01" x2="101.01" y1="310.50" y2="400.50" stroke="#ececec" stroke-width="0.9"/>
<line x1="150.77" x2="150.77" y1="310.50" y2="400.50" stroke="#ececec" stroke-width="0.9"/>
<line x1="200.53" x2="200.53" y1="310.50" y2="400.50" stroke="#ececec" stroke-width="0.9"/>
<line x1="250.29" x2="250.29" y1="310.50" y2="400.50" stroke="#ececec" stroke-width="0.9"/>
<line x1="300.05" x2="300.05" y1="310.50" y2="400.50" stroke="#ececec" stroke-width="0.9"/>
<line x1="349.81" x2="349.81" y1="310.50" y2="400.50" stroke="#ececec" stroke-width="0.9"/>
<line x1="399.57" x2="399.57" y1="310.50" y2="400.50" stroke="#ececec" stroke-width="0.9"/>
<line x1="53.50" x2="57.65" y1="397.15" y2="397.15" stroke="#828282" stroke-width="0.9"/>
<line x1="57.65" x2="61.79" y1="397.15" y2="397.15" stroke="#828282" stroke-width="0.9"/>
<line x1="61.79" x2="65.94" y1="397.15" y2="397.15" stroke="#828282" stroke-width="0.9"/>
<rect x="65.94" y="392.80" width="4.147" height="4.35" fill="#c8c8c8" stroke="#828282" stroke-width="0.9"/>
<rect x="70.09" y="392.80" width="4.147" height="4.35" fill="#c8c8c8" stroke="#828282" stroke-width="0.9"/>
<line x1="74.23" x2="78.38" y1="397.15" y2="397.15" stroke="#828282" stroke-width="0.9"/>
<line x1="78.38" x2="82.53" y1="397.15" y2="397.15" stroke="#828282" stroke-width="0.9"/>
<rect x="82.53" y="392.80" width="4.147" height="4.35" fill="#c8c8c8" stroke="#828282" stroke-width="0.9"/>
<rect x="86.68" y="392.80" width="4.147" height="4.35" fill="#c8c8c8" stroke="#828282" stroke-width="0.9"/>
<line x1="90.82" x2="94.97" y1="397.15" y2="397.15" stroke="#828282" stroke-width="0.9"/>
<line x1="94.97" x2="99.12" y1="397.15" y2="397.15" stroke="#828282" stroke-width="0.9"/>
<rect x="99.12" y="392.80" width="4.147" height="4.35" fill="#c8c8c8" stroke="#828282" stroke-width="0.9"/>
<rect x="103.26" y="392.80" width="4.147" height="4.35" fill="#c8c8c8" stroke="#828282" stroke-width="0.9"/>
<rect x="107.41" y="392.80" width="4.147" height="4.35" fill="#c8c8c8" stroke="#828282" stroke-width="0.9"/>
<rect x="111.56" y="392.80" width="4.147" height="4.35" fill="#f9f9f9" stroke="#828282" stroke-width="0.9"/>
<rect x="115.71" y="392.80" width="4.147" height="4.35" fill="#c8c8c8" stroke="#828282" stroke-width="0.9"/>
<rect x="119.85" y="392.80" width="4.147" height="4.35" fill="#c8c8c8" stroke="#828282" stroke-width="0.9"/>
<rect x="124.00" y="392.80" width="4.147" height="4.35" fill="#c8c8c8" stroke="#828282" stroke-width="0.9"/>
<rect x="124.00" y="388.45" width="4.147" height="4.35" fill="#f9f9f9" stroke="#828282" stroke-width="0.9"/>
<line x1="128.15" x2="132.29" y1="397.15" y2="397.15" stroke="#828282" stroke-width="0.9"/>
<line x1="132.29" x2="136.44" y1="397.15" y2="397.15" stroke="#828282" stroke-width="0.9"/>
<line x1="136.44" x2="140.59" y1="397.15" y2="397.15" stroke="#828282" stroke-width="0.9"/>
<line x1="140.59" x2="144.73" y1="397.15" y2="397.15" stroke="#828282" stroke-width="0.9"/>
<rect x="144.73" y="392.80" width="4.147" height="4.35" fill="#c8c8c8" stroke="#828282" stroke-width="0.9"/>
<rect x="148.88" y="392.80" width="4.147" height="4.35" fill="#c8c8c8" stroke="#828282" stroke-width="0.9"/>
<rect x="148.88" y="388.45" width="4.147" height="4.35" fill="#f9f9f9" stroke="#828282" stroke-width="0.9"/>
<rect x="153.03" y="392.80" width="4.147" height="4.35" fill="#c8c8c8" stroke="#828282" stroke-width="0.9"/>
<rect x="157.18" y="388.45" width="4.147" height="8.70" fill="#c8c8c8" stroke="#828282" stroke-width="0.9"/>
<line x1="161.32" x2="165.47" y1="397.15" y2="397.15" stroke="#828282" stroke-width="0.9"/>
<line x1="165.47" x2="169.62" y1="397.15" y2="397.15" stroke="#828282" stroke-width="0.9"/>
<rect x="169.62" y="388.45" width="4.147" height="8.70" fill="#c8c8c8" stroke="#828282" stroke-width="0.9"/>
<line x1="173.76" x2="177.91" y1="397.15" y2="397.15" stroke="#828282" stroke-width="0.9"/>
<line x1="177.91" x2="182.06" y1="397.15" y2="397.15" stroke="#828282" stroke-width="0.9"/>
<rect x="182.06" y="388.45" width="4.147" height="8.70" fill="#c8c8c8" stroke="#828282" stroke-width="0.9"/>
<line x1="186.20" x2="190.35" y1="397.15" y2="397.15" stroke="#828282" stroke-width="0.9"/>
<rect x="190.35" y="392.80" width="4.147" height="4.35" fill="#c8c8c8" stroke="#828282" stroke-width="0.9"/>
<rect x="194.50" y="392.80" width="4.147" height="4.35" fill="#c8c8c8" stroke="#828282" stroke-width="0.9"/>
<line x1="198.65" x2="202.79" y1="397.15" y2="397.15" stroke="#828282" stroke-width="0.9"/>
<rect x="202.79" y="392.80" width="4.147" height="4.35" fill="#c8c8c8" stroke="#828282" stroke-width="0.9"/>
<rect x="202.79" y="388.45" width="4.147" height="4.35" fill="#f9f9f9" stroke="#828282" stroke-width="0.9"/>
<rect x="206.94" y="392.80" width="4.147" height="4.35" fill="#c8c8c8" stroke="#828282" stroke-width="0.9"/>
<rect x="211.09" y="392.80" width="4.147" height="4.35" fill="#c8c8c8" stroke="#828282" stroke-width="0.9"/>
<rect x="215.23" y="388.45" width="4.147" height="8.70" fill="#c8c8c8" stroke="#828282" stroke-width="0.9"/>
<rect x="215.23" y="379.75" width="4.147" height="8.70" fill="#f9f9f9" stroke="#828282" stroke-width="0.9"/>
<rect x="219.38" y="392.80" width="4.147" height="4.35" fill="#c8c8c8" stroke="#828282" stroke-width="0.9"/>
<rect x="223.53" y="392.80" width="4.147" height="4.35" fill="#c8c8c8" stroke="#828282" stroke-width="0.9"/>
<rect x="223.53" y="384.10" width="4.147" height="8.70" fill="#f9f9f9" stroke="#828282" stroke-width="0.9"/>
<rect x="227.67" y="392.80" width="4.147" height="4.35" fill="#c8c8c8" stroke="#828282" stroke-width="0.9"/>
<rect x="231.82" y="392.80" width="4.147" height="4.35" fill="#c8c8c8" stroke="#828282" stroke-width="0.9"/>
<rect x="231.82" y="384.10" width="4.147" height="8.70" fill="#f9f9f9" stroke="#828282" stroke-width="0.9"/>
<rect x="235.97" y="388.45" width="4.147" height="8.70" fill="#c8c8c8" stroke="#828282" stroke-width="0.9"/>
<rect x="235.97" y="384.10" width="4.147" height="4.35" fill="#f9f9f9" stroke="#828282" stroke-width="0.9"/>
<rect x="240.12" y="388.45" width="4.147" height="8.70" fill="#c8c8c8" stroke="#828282" stroke-width="0.9"/>
<rect x="240.12" y="384.10" width="4.147" height="4.35" fill="#f9f9f9" stroke="#828282" stroke-width="0.9"/>
<rect x="244.26" y="384.10" width="4.147" height="13.05" fill="#c8c8c8" stroke="#828282" stroke-width="0.9"/>
<line x1="248.41" x2="252.56" y1="397.15" y2="397.15" stroke="#828282" stroke-width="0.9"/>
<rect x="252.56" y="392.80" width="4.147" height="4.35" fill="#c8c8c8" stroke="#828282" stroke-width="0.9"/>
<line x1="256.70" x2="260.85" y1="397.15" y2="397.15" stroke="#828282" stroke-width="0.9"/>
<rect x="260.85" y="392.80" width="4.147" height="4.35" fill="#c8c8c8" stroke="#828282" stroke-width="0.9"/>
<rect x="260.85" y="388.45" width="4.147" height="4.35" fill="#f9f9f9" stroke="#828282" stroke-width="0.9"/>
<rect x="265.00" y="388.45" width="4.147" height="8.70" fill="#c8c8c8" stroke="#828282" stroke-width="0.9"/>
<rect x="265.00" y="384.10" width="4.147" height="4.35" fill="#f9f9f9" stroke="#828282" stroke-width="0.9"/>
<rect x="269.14" y="384.10" width="4.147" height="13.05" fill="#c8c8c8" stroke="#828282" stroke-width="0.9"/>
<rect x="273.29" y="392.80" width="4.147" height="4.35" fill="#c8c8c8" stroke="#828282" stroke-width="0.9"/>
<rect x="273.29" y="388.45" width="4.147" height="4.35" fill="#f9f9f9" stroke="#828282" stroke-width="0.9"/>
<line x1="277.44" x2="281.58" y1="397.15" y2="397.15" stroke="#828282" stroke-width="0.9"/>
<rect x="281.59" y="392.80" width="4.147" height="4.35" fill="#f9f9f9" stroke="#828282" stroke-width="0.9"/>
<rect x="285.73" y="392.80" width="4.147" height="4.35" fill="#f9f9f9" stroke="#828282" stroke-width="0.9"/>
<line x1="289.88" x2="294.03" y1="397.15" y2="397.15" stroke="#828282" stroke-width="0.9"/>
<rect x="294.03" y="388.45" width="4.147" height="8.70" fill="#c8c8c8" stroke="#828282" stroke-width="0.9"/>
<rect x="294.03" y="384.10" width="4.147" height="4.35" fill="#f9f9f9" stroke="#828282" stroke-width="0.9"/>
<rect x="298.17" y="384.10" width="4.147" height="13.05" fill="#c8c8c8" stroke="#828282" stroke-width="0.9"/>
<rect x="298.17" y="366.70" width="4.147" height="17.40" fill="#f9f9f9" stroke="#828282" stroke-width="0.9"/>
<rect x="302.32" y="392.80" width="4.147" height="4.35" fill="#c8c8c8" stroke="#828282" stroke-width="0.9"/>
<rect x="302.32" y="388.45" width="4.147" height="4.35" fill="#f9f9f9" stroke="#828282" stroke-width="0.9"/>
<rect x="306.47" y="384.10" width="4.147" height="13.05" fill="#c8c8c8" stroke="#828282" stroke-width="0.9"/>
<rect x="306.47" y="375.40" width="4.147" height="8.70" fill="#f9f9f9" stroke="#828282" stroke-width="0.9"/>
<rect x="310.61" y="384.10" width="4.147" height="13.05" fill="#c8c8c8" stroke="#828282" stroke-width="0.9"/>
<rect x="310.61" y="375.40" width="4.147" height="8.70" fill="#f9f9f9" stroke="#828282" stroke-width="0.9"/>
<rect x="314.76" y="379.75" width="4.147" height="17.40" fill="#c8c8c8" stroke="#828282" stroke-width="0.9"/>
<rect x="314.76" y="371.05" width="4.147" height="8.70" fill="#f9f9f9" stroke="#828282" stroke-width="0.9"/>
<rect x="318.91" y="379.75" width="4.147" height="17.40" fill="#c8c8c8" stroke="#828282" stroke-width="0.9"/>
<rect x="318.91" y="375.40" width="4.147" height="4.35" fill="#f9f9f9" stroke="#828282" stroke-width="0.9"/>
<rect x="323.06" y="392.80" width="4.147" height="4.35" fill="#c8c8c8" stroke="#828282" stroke-width="0.9"/>
<rect x="323.06" y="366.70" width="4.147" height="26.10" fill="#f9f9f9" stroke="#828282" stroke-width="0.9"/>
<rect x="327.20" y="392.80" width="4.147" height="4.35" fill="#c8c8c8" stroke="#828282" stroke-width="0.9"/>
<rect x="327.20" y="379.75" width="4.147" height="13.05" fill="#f9f9f9" stroke="#828282" stroke-width="0.9"/>
<rect x="331.35" y="379.75" width="4.147" height="17.40" fill="#c8c8c8" stroke="#828282" stroke-width="0.9"/>
<rect x="331.35" y="375.40" width="4.147" height="4.35" fill="#f9f9f9" stroke="#828282" stroke-width="0.9"/>
<rect x="335.50" y="388.45" width="4.147" height="8.70" fill="#c8c8c8" stroke="#828282" stroke-width="0.9"/>
<rect x="335.50" y="371.05" width="4.147" height="17.40" fill="#f9f9f9" stroke="#828282" stroke-width="0.9"/>
<rect x="339.64" y="388.45" width="4.147" height="8.70" fill="#c8c8c8" stroke="#828282" stroke-width="0.9"/>
<rect x="339.64" y="371.05" width="4.147" height="17.40" fill="#f9f9f9" stroke="#828282" stroke-width="0.9"/>
<rect x="343.79" y="366.70" width="4.147" height="30.45" fill="#c8c8c8" stroke="#828282" stroke-width="0.9"/>
<rect x="343.79" y="327.55" width="4.147" height="39.15" fill="#f9f9f9" stroke="#828282" stroke-width="0.9"/>
<rect x="347.94" y="384.10" width="4.147" height="13.05" fill="#c8c8c8" stroke="#828282" stroke-width="0.9"/>
<rect x="347.94" y="362.35" width="4.147" height="21.75" fill="#f9f9f9" stroke="#828282" stroke-width="0.9"/>
<rect x="352.08" y="384.10" width="4.147" height="13.05" fill="#c8c8c8" stroke="#828282" stroke-width="0.9"/>
<rect x="352.08" y="371.05" width="4.147" height="13.05" fill="#f9f9f9" stroke="#828282" stroke-width="0.9"/>
<rect x="356.23" y="379.75" width="4.147" height="17.40" fill="#c8c8c8" stroke="#828282" stroke-width="0.9"/>
<rect x="356.23" y="349.30" width="4.147" height="30.45" fill="#f9f9f9" stroke="#828282" stroke-width="0.9"/>
<rect x="360.38" y="392.80" width="4.147" height="4.35" fill="#c8c8c8" stroke="#828282" stroke-width="0.9"/>
<rect x="360.38" y="371.05" width="4.147" height="21.75" fill="#f9f9f9" stroke="#828282" stroke-width="0.9"/>
<rect x="364.53" y="392.80" width="4.147" height="4.35" fill="#c8c8c8" stroke="#828282" stroke-width="0.9"/>
<rect x="364.53" y="366.70" width="4.147" height="26.10" fill="#f9f9f9" stroke="#828282" stroke-width="0.9"/>
<rect x="368.67" y="379.75" width="4.147" height="17.40" fill="#c8c8c8" stroke="#828282" stroke-width="0.9"/>
<rect x="368.67" y="366.70" width="4.147" height="13.05" fill="#f9f9f9" stroke="#828282" stroke-width="0.9"/>
<rect x="372.82" y="392.80" width="4.147" height="4.35" fill="#c8c8c8" stroke="#828282" stroke-width="0.9"/>
<rect x="372.82" y="358.00" width="4.147" height="34.80" fill="#f9f9f9" stroke="#828282" stroke-width="0.9"/>
<rect x="376.97" y="375.40" width="4.147" height="21.75" fill="#c8c8c8" stroke="#828282" stroke-width="0.9"/>
<rect x="376.97" y="314.50" width="4.147" height="60.90" fill="#f9f9f9" stroke="#828282" stroke-width="0.9"/>
<rect x="381.11" y="388.45" width="4.147" height="8.70" fill="#c8c8c8" stroke="#828282" stroke-width="0.9"/>
<rect x="381.11" y="371.05" width="4.147" height="17.40" fill="#f9f9f9" stroke="#828282" stroke-width="0.9"/>
<rect x="385.26" y="392.80" width="4.147" height="4.35" fill="#c8c8c8" stroke="#828282" stroke-width="0.9"/>
<rect x="389.41" y="388.45" width="4.147" height="8.70" fill="#c8c8c8" stroke="#828282" stroke-width="0.9"/>
<rect x="389.41" y="384.10" width="4.147" height="4.35" fill="#f9f9f9" stroke="#828282" stroke-width="0.9"/>
<rect x="393.55" y="388.45" width="4.147" height="8.70" fill="#c8c8c8" stroke="#828282" stroke-width="0.9"/>
<rect x="393.55" y="379.75" width="4.147" height="8.70" fill="#f9f9f9" stroke="#828282" stroke-width="0.9"/>
<rect x="397.70" y="388.45" width="4.147" height="8.70" fill="#c8c8c8" stroke="#828282" stroke-width="0.9"/>
<rect x="401.85" y="375.40" width="4.147" height="21.75" fill="#c8c8c8" stroke="#828282" stroke-width="0.9"/>
<rect x="401.85" y="362.35" width="4.147" height="13.05" fill="#f9f9f9" stroke="#828282" stroke-width="0.9"/>
<rect x="406.00" y="392.80" width="4.147" height="4.35" fill="#c8c8c8" stroke="#828282" stroke-width="0.9"/>
<rect x="406.00" y="366.70" width="4.147" height="26.10" fill="#f9f9f9" stroke="#828282" stroke-width="0.9"/>
<rect x="410.14" y="388.45" width="4.147" height="8.70" fill="#c8c8c8" stroke="#828282" stroke-width="0.9"/>
<rect x="410.14" y="366.70" width="4.147" height="21.75" fill="#f9f9f9" stroke="#828282" stroke-width="0.9"/>
<rect x="414.29" y="388.45" width="4.147" height="8.70" fill="#c8c8c8" stroke="#828282" stroke-width="0.9"/>
<rect x="414.29" y="379.75" width="4.147" height="8.70" fill="#f9f9f9" stroke="#828282" stroke-width="0.9"/>
<rect x="418.44" y="384.10" width="4.147" height="13.05" fill="#c8c8c8" stroke="#828282" stroke-width="0.9"/>
<rect x="418.44" y="375.40" width="4.147" height="8.70" fill="#f9f9f9" stroke="#828282" stroke-width="0.9"/>
<rect x="422.58" y="392.80" width="4.147" height="4.35" fill="#f9f9f9" stroke="#828282" stroke-width="0.9"/>
<text x="23.50" y="399.15" font-size="7.2" fill="#4d4d4d" text-anchor="end">0</text>
<text x="23.50" y="377.40" font-size="7.2" fill="#4d4d4d" text-anchor="end">5</text>
<text x="23.50" y="355.65" font-size="7.2" fill="#4d4d4d" text-anchor="end">10</text>
<text x="23.50" y="333.90" font-size="7.2" fill="#4d4d4d" text-anchor="end">15</text>
<text x="51.25" y="417.80" font-size="7.2" fill="#4d4d4d" text-anchor="middle">2013</text>
<text x="101.01" y="417.80" font-size="7.2" fill="#4d4d4d" text-anchor="middle">2014</text>
<text x="150.77" y="417.80" font-size="7.2" fill="#4d4d4d" text-anchor="middle">2015</text>
<text x="200.53" y="417.80" font-size="7.2" fill="#4d4d4d" text-anchor="middle">2016</text>
<text x="250.29" y="417.80" font-size="7.2" fill="#4d4d4d" text-anchor="middle">2017</text>
<text x="300.05" y="417.80" font-size="7.2" fill="#4d4d4d" text-anchor="middle">2018</text>
<text x="349.81" y="417.80" font-size="7.2" fill="#4d4d4d" text-anchor="middle">2019</text>
<text x="399.57" y="417.80" font-size="7.2" fill="#4d4d4d" text-anchor="middle">2020</text>
<text x="233.00" y="304.00" font-size="10.85" fill="#000" stroke="#000" stroke-width="0.18" text-anchor="middle">Perfomed pseudotime analysis</text>
<text x="233.00" y="429.60" font-size="9" fill="#000" stroke="#000" stroke-width="0.18" text-anchor="middle">Date</text>
<text transform="translate(11.00 355.50) rotate(-90)" font-size="9" fill="#000" stroke="#000" stroke-width="0.18" text-anchor="middle">Number of studies</text>
<text x="460.50" y="344.20" font-size="9" fill="#000" stroke="#000" stroke-width="0.18">Pseudotime</text>
<rect x="460.50" y="347.30" width="12.40" height="12.40" fill="#f0f0f0" stroke="#999" stroke-width="0.8"/>
<rect x="460.50" y="362.00" width="12.40" height="12.40" fill="#c6c6c6" stroke="#999" stroke-width="0.8"/>
<text x="476.00" y="355.20" font-size="7.2" fill="#000" stroke="#000" stroke-width="0.12">Yes</text>
<text x="476.00" y="369.80" font-size="7.2" fill="#000" stroke="#000" stroke-width="0.12">No</text></g>
</svg>
</body></html>
